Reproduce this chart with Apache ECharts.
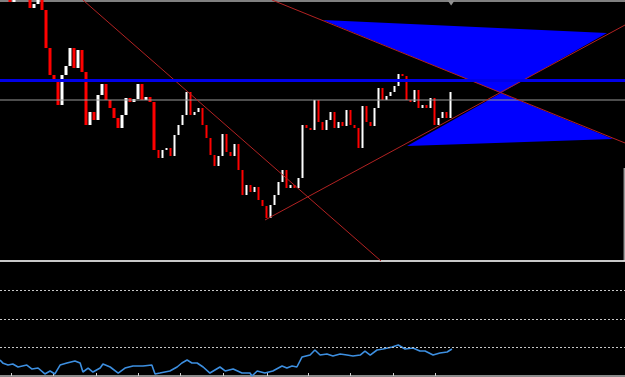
<!DOCTYPE html>
<html>
<head>
<meta charset="utf-8">
<script src="https://cdn.jsdelivr.net/npm/echarts@6/dist/echarts.min.js"></script>
<style>
  html, body { margin: 0; padding: 0; background: #000; }
  #chart { width: 625px; height: 377px; }
</style>
</head>
<body>
<div id="chart"></div>
<script>
// closing prices, one per bar (bar i sits at category i)
const closes = [
  1.2608, 1.2606, 1.2598, 1.2608, 1.2610, 1.2610, 1.2606, 1.2592, 1.2596, 1.2600,
  1.2590, 1.2552, 1.2525, 1.2520, 1.2495, 1.2525, 1.2534, 1.2552, 1.2532, 1.2550,
  1.2528, 1.2475, 1.2488, 1.2480, 1.2505, 1.2516, 1.2500, 1.2492, 1.2482, 1.2472,
  1.2485, 1.2502, 1.2498, 1.2501, 1.2516, 1.2500, 1.2503, 1.2498, 1.2450, 1.2442,
  1.2450, 1.2452, 1.2444, 1.2465, 1.2475, 1.2485, 1.2508, 1.2485, 1.2488, 1.2492,
  1.2475, 1.2462, 1.2445, 1.2434, 1.2444, 1.2466, 1.2448, 1.2444, 1.2456, 1.2430,
  1.2405, 1.2415, 1.2408, 1.2413, 1.2400, 1.2394, 1.2382, 1.2395, 1.2405, 1.2418,
  1.2430, 1.2412, 1.2415, 1.2412, 1.2422, 1.2475, 1.2472, 1.2470, 1.2500, 1.2478,
  1.2470, 1.2480, 1.2488, 1.2472, 1.2478, 1.2474, 1.2490, 1.2475, 1.2472, 1.2452,
  1.2494, 1.2478, 1.2474, 1.2492, 1.2512, 1.2500, 1.2504, 1.2508, 1.2514, 1.2526,
  1.2524, 1.2500, 1.2498, 1.2510, 1.2492, 1.2495, 1.2492, 1.2502, 1.2475, 1.2482,
  1.2488, 1.2482, 1.2508
];
const barCount = 156; // visible bar slots incl. empty shift area

// oscillator in the sub window: [bar position, value]
const oscillator = [
  [-0.5, 14.0], [0.3, 11.1], [1.5, 9.6], [2.7, 10.5], [4.0, 7.9], [6.2, 9.6], [7.5, 6.1],
  [9.0, 7.0], [10.7, 1.8], [12.0, 4.4], [13.2, 1.8], [14.5, 9.6], [16.2, 11.4], [18.2, 13.2],
  [19.5, 11.4], [20.2, 3.5], [21.5, 7.0], [22.7, 3.5], [24.5, 7.0], [25.2, 10.5], [27.0, 7.9],
  [29.0, 2.6], [30.7, 7.0], [32.7, 8.8], [35.2, 8.8], [37.4, 9.6], [38.2, 1.8], [39.4, 2.6],
  [41.9, 4.4], [43.7, 7.9], [44.9, 11.4], [46.2, 14.0], [47.4, 11.4], [48.7, 11.4], [50.2, 7.9],
  [51.9, 2.6], [54.4, 7.9], [55.7, 4.4], [57.7, 6.1], [59.9, 2.6], [61.9, 2.6], [62.4, 0],
  [63.7, 4.4], [65.6, 2.6], [67.6, 4.4], [69.9, 8.8], [71.1, 7.0], [72.4, 8.8], [73.6, 7.9],
  [74.9, 16.7], [76.9, 18.4], [78.1, 22.8], [79.4, 18.4], [81.1, 19.3], [82.6, 17.5], [84.4, 19.3],
  [86.1, 18.4], [87.6, 17.5], [89.4, 18.4], [90.6, 21.9], [91.9, 18.4], [93.6, 22.8], [95.1, 23.7],
  [97.4, 25.4], [98.9, 27.2], [100.6, 23.7], [102.6, 24.6], [104.3, 21.9], [105.6, 21.9],
  [107.6, 18.4], [109.3, 20.2], [111.1, 21.1], [112.3, 23.7]
];
const levels = [75, 50, 25];

// drawn objects, in [bar position, price]
const trendLines = [
  [[20.2, 1.2600], [94.6, 1.2339]],
  [[67.4, 1.2600], [155.5, 1.2457]],
  [[65.65, 1.2380], [155.5, 1.2575]]
];
const triangles = [
  [[80.1, 1.2580], [151.0, 1.2567], [124.56, 1.2507]],
  [[124.56, 1.2507], [101.1, 1.2454], [152.5, 1.2461]]
];
const blueLevel = 1.25195;
const grayLevel = 1.2500;
const shiftMark = [112.1, 1.2597];
const edgeMark = [[155.3, 1.2432], [155.3, 1.2339]];
const timeTicks = [2.42, 12.8, 23.6, 34.0, 44.4, 55.2, 66.2, 76.4, 86.9, 97.6, 108.1];

const categories = [];
for (let i = 0; i < barCount; i++) categories.push(i);

// open = previous close
const candles = closes.map((c, i) => {
  const o = i === 0 ? c : closes[i - 1];
  return [o, c, Math.min(o, c), Math.max(o, c)];
});

const hLine = (v) => [[-0.5, v], [barCount - 0.5, v]];

const chart = echarts.init(document.getElementById("chart"));

const option = {
  backgroundColor: "#000000",
  animation: false,
  grid: [
    { left: 0, right: 0, top: 0, height: 261 },
    { left: 0, right: 0, top: 262, height: 114 }
  ],
  xAxis: [
    {
      type: "category", gridIndex: 0, data: categories,
      axisLine: { show: true, lineStyle: { color: "#c8c8c8", width: 2 } },
      axisTick: { show: false }, axisLabel: { show: false }
    },
    {
      type: "value", gridIndex: 0, min: -0.5, max: barCount - 0.5, position: "top",
      axisLine: { show: true, lineStyle: { color: "#808080", width: 3 } },
      axisTick: { show: false }, axisLabel: { show: false }, splitLine: { show: false }
    },
    {
      type: "value", gridIndex: 1, min: -0.5, max: barCount - 0.5, position: "bottom",
      axisLine: { show: true, lineStyle: { color: "#8a8a8a", width: 2 } },
      axisTick: { show: true, inside: true, length: 3, customValues: timeTicks, lineStyle: { color: "#d0d0d0" } },
      axisLabel: { show: false }, splitLine: { show: false }
    }
  ],
  yAxis: [
    { type: "value", gridIndex: 0, min: 1.2339, max: 1.2600, show: false },
    { type: "value", gridIndex: 1, min: 0, max: 100, show: false }
  ],
  series: [
    {
      type: "custom",
      xAxisIndex: 1, yAxisIndex: 0,
      data: triangles.map((t, i) => i),
      renderItem: (params, api) => {
        const pts = triangles[params.dataIndex].map((p) => api.coord(p));
        return {
          type: "polygon",
          shape: { points: pts },
          style: { fill: "#0000ff" }
        };
      },
      silent: true
    },
    {
      type: "line",
      xAxisIndex: 1, yAxisIndex: 0,
      data: hLine(grayLevel),
      symbol: "none",
      lineStyle: { color: "#9a9a9a", width: 1 },
      silent: true
    },
    {
      type: "candlestick",
      xAxisIndex: 0, yAxisIndex: 0,
      data: candles,
      barWidth: 3,
      itemStyle: {
        color: "#ffffff", color0: "#ff0000",
        borderColor: "#ffffff", borderColor0: "#ff0000", borderWidth: 0
      },
      silent: true
    },
    ...trendLines.map((l) => ({
      type: "line",
      xAxisIndex: 1, yAxisIndex: 0,
      data: l,
      symbol: "none",
      lineStyle: { color: "#b22222", width: 1 },
      silent: true
    })),
    {
      type: "line",
      xAxisIndex: 1, yAxisIndex: 0,
      data: hLine(blueLevel),
      symbol: "none",
      lineStyle: { color: "#0000e8", width: 3 },
      silent: true,
      markPoint: {
        silent: true,
        data: [{ coord: shiftMark, symbol: "triangle", symbolRotate: 180, symbolSize: [7, 5], itemStyle: { color: "#909090" }, label: { show: false } }]
      }
    },
    {
      type: "line",
      xAxisIndex: 1, yAxisIndex: 0,
      data: edgeMark,
      symbol: "none",
      lineStyle: { color: "#e0e0e0", width: 1 },
      silent: true
    },
    {
      type: "line",
      xAxisIndex: 2, yAxisIndex: 1,
      data: oscillator,
      symbol: "none",
      lineStyle: { color: "#3d8fe0", width: 1.6 },
      markLine: {
        silent: true, symbol: ["none", "none"], label: { show: false },
        lineStyle: { color: "#c8c8c8", width: 1, type: [2, 2] },
        data: levels.map((v) => ({ yAxis: v }))
      },
      silent: true
    }
  ]
};

chart.setOption(option);
</script>
</body>
</html>
